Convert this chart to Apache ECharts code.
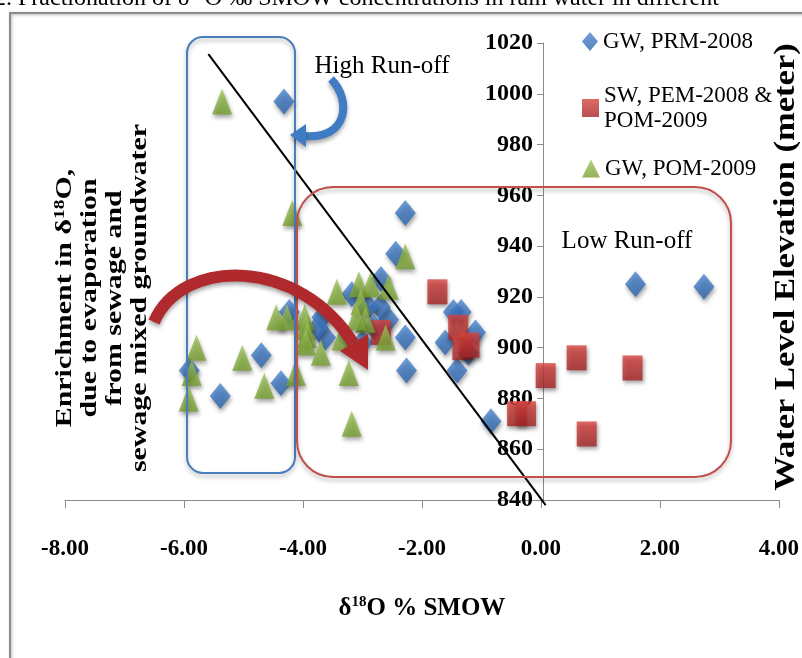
<!DOCTYPE html>
<html style="height: 100%">
<head>
<meta charset="utf-8">
<script src="https://cdn.jsdelivr.net/npm/echarts@6/dist/echarts.min.js"></script>
</head>
<body style="height: 100%; margin: 0; background: #fff">
<div id="container" style="width: 802px; height: 658px"></div>
<script type="text/javascript">
// delta18O (% SMOW) vs water level elevation (m)
var gwPrm2008 = [
  [-4.32, 997], [-2.28, 953], [-2.44, 937], [-2.69, 927], [-2.56, 911], [-2.70, 916],
  [-2.28, 904], [-2.26, 891], [-1.47, 914], [-1.34, 914], [-1.61, 902], [-1.10, 906],
  [-1.22, 898], [-1.41, 891], [-0.84, 871], [1.59, 925], [2.74, 924], [-5.91, 891],
  [-5.39, 881], [-4.70, 897], [-4.37, 886], [-4.23, 914], [-3.68, 912], [-3.62, 904],
  [-3.18, 921], [-3.75, 908], [-2.90, 916], [-2.80, 908], [-3.00, 902]
];
var swPemPom = [
  [-1.74, 922], [-1.39, 908], [-1.32, 900], [-1.20, 901], [-2.69, 906], [-0.40, 874],
  [-0.25, 874], [0.08, 889], [0.60, 896], [1.54, 892], [0.77, 866]
];
var gwPom2009 = [
  [-5.36, 997], [-4.18, 953], [-2.28, 936], [-2.56, 924], [-5.79, 900], [-5.87, 890],
  [-5.92, 880], [-5.02, 896], [-4.65, 885], [-4.12, 890], [-4.45, 912], [-4.27, 912],
  [-3.97, 912], [-3.95, 908], [-3.93, 905], [-3.95, 902], [-3.70, 898], [-3.43, 922],
  [-3.35, 904], [-3.23, 890], [-3.18, 870], [-3.06, 925], [-2.86, 925], [-3.03, 918],
  [-2.95, 911], [-2.61, 904], [-3.10, 912]
];
var trendLine = [[-5.59, 1015.6], [0.08, 838]];
var seriesNames = ['GW, PRM-2008', 'SW, PEM-2008 &\nPOM-2009', 'GW, POM-2009'];

var serif = 'Liberation Serif';
var shadow = { shadowBlur: 4, shadowColor: 'rgba(0,0,0,0.45)', shadowOffsetX: 1, shadowOffsetY: 3 };

function grad(c1, c2) {
  return new echarts.graphic.LinearGradient(0, 0, 0, 1, [
    { offset: 0, color: c1 }, { offset: 1, color: c2 }
  ]);
}

var dom = document.getElementById('container');
var myChart = echarts.init(dom);

function legendBox(name, top, w, h, extraText) {
  return {
    data: [name],
    orient: 'vertical',
    left: 577,
    top: top,
    itemWidth: w,
    itemHeight: h,
    selectedMode: false,
    textStyle: Object.assign({
      fontFamily: serif, fontSize: 23, color: '#000', lineHeight: 25
    }, extraText || {})
  };
}

var option = {
  animation: false,
  grid: { left: 65, right: 20, top: 43, bottom: 158 },
  legend: [
    legendBox(seriesNames[0], 24, 16, 19),
    legendBox(seriesNames[1], 68, 17, 18, { padding: [20, 0, 0, 0] }),
    legendBox(seriesNames[2], 151, 18, 18)
  ],
  xAxis: {
    type: 'value',
    min: -8, max: 4, interval: 2,
    name: '{a|δ}{s|18}{a|O % SMOW}',
    nameLocation: 'middle',
    nameGap: 95,
    nameTextStyle: {
      rich: {
        a: { fontFamily: serif, fontWeight: 'bold', fontSize: 25, color: '#000', lineHeight: 28 },
        s: { fontFamily: serif, fontWeight: 'bold', fontSize: 15, color: '#000', verticalAlign: 'top', lineHeight: 28 }
      }
    },
    splitLine: { show: false },
    axisLine: { onZero: false, lineStyle: { color: '#8a8a8a', width: 1 } },
    axisTick: { show: true, length: 8, lineStyle: { color: '#8a8a8a' } },
    axisLabel: {
      margin: 38,
      fontFamily: serif, fontWeight: 'bold', fontSize: 23, color: '#000',
      formatter: function (v) { return v.toFixed(2); }
    }
  },
  yAxis: {
    type: 'value',
    min: 840, max: 1020, interval: 20,
    offset: -478, // axis drawn through x = 0
    splitLine: { show: false },
    axisLine: { show: true, onZero: false, lineStyle: { color: '#8a8a8a', width: 1 } },
    axisTick: { show: true, length: 6, lineStyle: { color: '#8a8a8a' } },
    axisLabel: {
      margin: 10, fontFamily: serif, fontWeight: 'bold', fontSize: 24, color: '#000',
      formatter: function (v) { return String(v); }
    }
  },
  series: [
    {
      name: seriesNames[0], type: 'scatter', symbol: 'diamond', symbolSize: [21, 26],
      data: gwPrm2008,
      itemStyle: Object.assign({ color: grad('#4A86D0', '#2F66AE') }, shadow)
    },
    {
      name: seriesNames[1], type: 'scatter', symbol: 'rect', symbolSize: [20, 25],
      data: swPemPom,
      itemStyle: Object.assign({ color: grad('#D8433F', '#A52525') }, shadow)
    },
    {
      name: seriesNames[2], type: 'scatter', symbol: 'triangle', symbolSize: [20, 26],
      data: gwPom2009,
      itemStyle: Object.assign({ color: grad('#9FC25A', '#77A030') }, shadow)
    },
    {
      name: 'trend', type: 'line', data: trendLine, symbol: 'none', clip: false,
      z: 5, silent: true,
      lineStyle: { color: '#000', width: 2 }
    }
  ],
  graphic: [
    // outer frame
    { type: 'polyline', z: 50, shape: { points: [[10, 660], [10, 13], [804, 13]] },
      style: { stroke: '#8c8c8c', lineWidth: 2, fill: null, shadowBlur: 3, shadowColor: 'rgba(0,0,0,0.3)', shadowOffsetX: 1, shadowOffsetY: 1 } },
    { type: 'text', z: 50, left: -6, top: -13,
      style: { text: '2. Fractionation of δ¹⁸O ‰ SMOW concentrations in rain water in different', font: '24px "Liberation Serif"', fill: '#000' } },
    // boxes
    { type: 'rect', z: 60, shape: { x: 187, y: 37, width: 108, height: 436, r: 16 },
      style: { fill: null, stroke: '#4A7EBB', lineWidth: 2, shadowBlur: 4, shadowColor: 'rgba(0,0,0,0.3)', shadowOffsetY: 3 } },
    { type: 'rect', z: 60, shape: { x: 297, y: 187, width: 434, height: 290, r: 36 },
      style: { fill: null, stroke: '#C0504D', lineWidth: 2, shadowBlur: 4, shadowColor: 'rgba(0,0,0,0.3)', shadowOffsetY: 3 } },
    // blue curved arrow
    { type: 'bezierCurve', z: 61,
      shape: { x1: 331, y1: 79, cpx1: 352, cpy1: 100, cpx2: 348, cpy2: 140, x2: 304, y2: 136 },
      style: { stroke: '#3F7CC4', lineWidth: 8, fill: null, shadowBlur: 4, shadowColor: 'rgba(0,0,0,0.35)', shadowOffsetY: 3 } },
    { type: 'polygon', z: 61, shape: { points: [[290, 135], [306, 124], [306, 147]] },
      style: { fill: '#3F7CC4', shadowBlur: 4, shadowColor: 'rgba(0,0,0,0.35)', shadowOffsetY: 3 } },
    // red curved arrow
    { type: 'bezierCurve', z: 61,
      shape: { x1: 154, y1: 322, cpx1: 183, cpy1: 256, cpx2: 300, cpy2: 258, x2: 353, y2: 343 },
      style: { stroke: '#B02A2D', lineWidth: 12, fill: null, shadowBlur: 4, shadowColor: 'rgba(0,0,0,0.35)', shadowOffsetY: 3 } },
    { type: 'polygon', z: 61, shape: { points: [[368, 370], [340, 351], [368, 334]] },
      style: { fill: '#B02A2D', shadowBlur: 4, shadowColor: 'rgba(0,0,0,0.35)', shadowOffsetY: 3 } },
    // labels
    { type: 'text', z: 62, x: 382, y: 66,
      style: { text: 'High Run-off', font: '25px "Liberation Serif"', fill: '#000', align: 'center', verticalAlign: 'middle' } },
    { type: 'text', z: 62, x: 627, y: 241,
      style: { text: 'Low Run-off', font: '25px "Liberation Serif"', fill: '#000', align: 'center', verticalAlign: 'middle' } },
    { type: 'text', z: 62, x: 103, y: 298, rotation: Math.PI / 2, scaleX: 1.3,
      style: {
        text: 'Enrichment in δ{s|18}O,\ndue to evaporation\nfrom sewage and\nsewage mixed groundwater',
        fontFamily: serif, fontWeight: 'bold', fontSize: 23, lineHeight: 25, fill: '#000',
        align: 'center', verticalAlign: 'middle',
        rich: { s: { fontFamily: serif, fontWeight: 'bold', fontSize: 15, lineHeight: 25, verticalAlign: 'top', fill: '#000' } }
      } },
    { type: 'text', z: 62, x: 786, y: 267, rotation: Math.PI / 2, scaleX: 1.15,
      style: { text: 'Water Level Elevation (meter)', fontFamily: serif, fontWeight: 'bold', fontSize: 30,
        fill: '#000', align: 'center', verticalAlign: 'middle' } }
  ]
};

myChart.setOption(option);
window.onresize = function () { myChart.resize(); };
</script>
</body>
</html>
